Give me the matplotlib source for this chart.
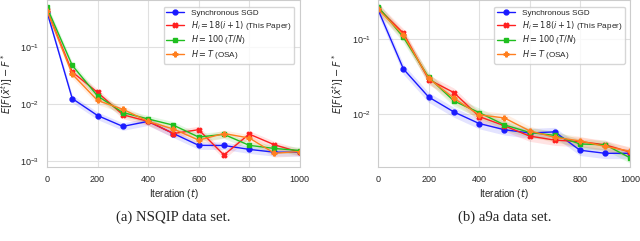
import numpy as np
import matplotlib
matplotlib.use("Agg")
import matplotlib.pyplot as plt
import seaborn as sns

iters = [0, 100, 200, 300, 400, 500, 600, 700, 800, 900, 1000]

# (a) NSQIP
nsqip_sync = [0.41, 0.0123, 0.0062, 0.0040, 0.0049, 0.0030, 0.00186, 0.00185, 0.00158, 0.00141, 0.00141]
nsqip_ours = [0.44, 0.036, 0.0158, 0.0064, 0.0049, 0.0030, 0.0035, 0.00126, 0.00293, 0.0019, 0.00141]
nsqip_h100 = [0.49, 0.047, 0.0137, 0.0070, 0.0054, 0.0042, 0.0026, 0.0029, 0.00186, 0.00164, 0.00151]
nsqip_osa = [0.43, 0.033, 0.0114, 0.0080, 0.0049, 0.0036, 0.0023, 0.0030, 0.0025, 0.00135, 0.00145]

# (b) a9a
a9a_sync = [0.245, 0.040, 0.0169, 0.0107, 0.0075, 0.0062, 0.0056, 0.0058, 0.0033, 0.0030, 0.0030]
a9a_ours = [0.26, 0.12, 0.029, 0.0194, 0.0093, 0.0070, 0.0051, 0.0045, 0.0043, 0.0039, 0.0031]
a9a_h100 = [0.27, 0.106, 0.031, 0.015, 0.0105, 0.0072, 0.0057, 0.0052, 0.0040, 0.0039, 0.0026]
a9a_osa = [0.25, 0.114, 0.030, 0.0163, 0.0098, 0.0089, 0.0060, 0.0049, 0.0044, 0.0037, 0.0032]

# relative half-width of the shaded bands
band = 0.15

labels = ["Synchronous SGD", r"$H_i = 18(i+1)$ (This Paper)",
          r"$H = 100$ ($T/N$)", r"$H = T$ (OSA)"]
colors = ["#1a1aff", "#ff2020", "#1fbf1f", "#ff7f1f"]
markers = ["o", "X", "s", "P"]

sns.set_style("whitegrid")
plt.rcParams["font.family"] = ["Liberation Sans", "DejaVu Sans"]
plt.rcParams["mathtext.fontset"] = "dejavusans"

fig = plt.figure(figsize=(6.4, 2.41), dpi=100)
ax1 = fig.add_axes([0.0734, 0.305, 0.395, 0.695])
ax2 = fig.add_axes([0.591, 0.305, 0.394, 0.695])

panels = [(ax1, [nsqip_sync, nsqip_ours, nsqip_h100, nsqip_osa], (7.6e-4, 0.66), "(a) NSQIP data set."),
          (ax2, [a9a_sync, a9a_ours, a9a_h100, a9a_osa], (1.94e-3, 0.334), "(b) a9a data set.")]

for ax, series, ylim, caption in panels:
    for vals, lab, c, m in zip(series, labels, colors, markers):
        v = np.array(vals)
        ax.fill_between(iters, v * (1 - band), v * (1 + band), color=c, alpha=0.12, lw=0)
        ax.plot(iters, v, color=c, marker=m, ms=3.5, lw=1, label=lab)
    ax.set_yscale("log")
    ax.set_xlim(0, 1000)
    ax.set_ylim(*ylim)
    ax.set_xticks([0, 200, 400, 600, 800, 1000])
    ax.tick_params(labelsize=6.5, pad=2)
    ax.tick_params(axis="y", which="minor", left=False)
    ax.grid(True, which="major", color="#e0e0e0", lw=0.8)
    for s in ax.spines.values():
        s.set_color("#cccccc")
    ax.set_xlabel(r"Iteration ($t$)", fontsize=7, labelpad=2)
    ax.set_ylabel(r"$E[F(\bar{x}^t)] - F^*$", fontsize=7, labelpad=4)
    ax.legend(loc="upper right", fontsize=5.9, frameon=True, borderpad=0.35,
              labelspacing=0.2, handlelength=2.2, bbox_to_anchor=(0.995, 0.985))
    ax.text(0.5, -0.30, caption, transform=ax.transAxes, ha="center", va="center",
            fontsize=10.6, family="Liberation Serif")

fig.savefig("out.png", dpi=100)
